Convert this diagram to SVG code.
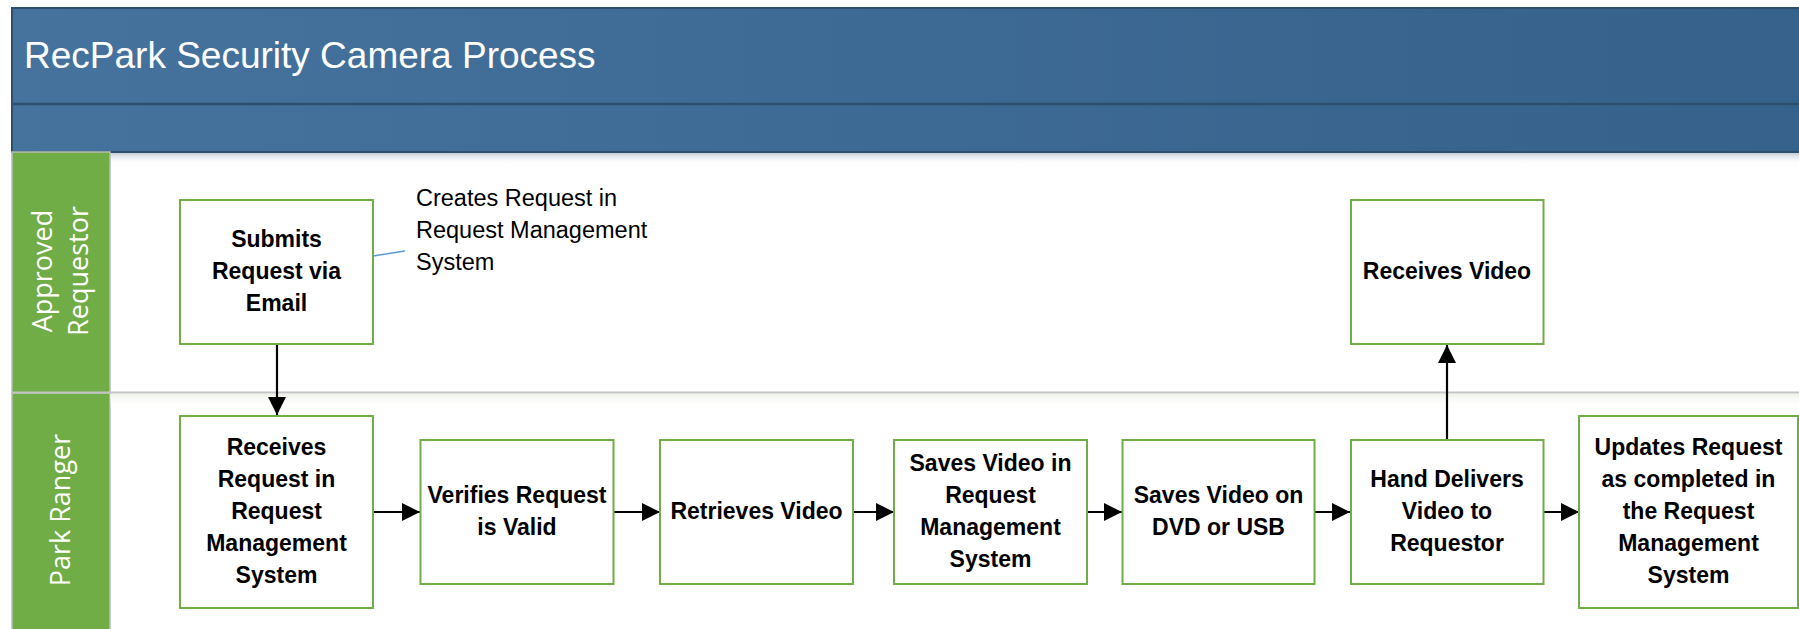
<svg xmlns="http://www.w3.org/2000/svg" width="1799" height="629" viewBox="0 0 1799 629">
<style>
.box{fill:#ffffff;stroke:#70AD47;stroke-width:2}
.bt{font-family:"Liberation Sans",Arial,sans-serif;font-weight:bold;font-size:23px;fill:#000;text-anchor:middle}
.lane{font-family:"Open Sans","DejaVu Sans",sans-serif;font-size:27px;fill:#ffffff;text-anchor:middle}
.conn{stroke:#000;stroke-width:2.2;fill:none;marker-end:url(#ah)}
.note{font-family:"Liberation Sans",Arial,sans-serif;font-size:23.5px;fill:#000}
</style>
<defs>
<linearGradient id="hdr" x1="0" y1="0" x2="1" y2="0">
<stop offset="0" stop-color="#45739e"/>
<stop offset="1" stop-color="#35618a"/>
</linearGradient>
<linearGradient id="shd" x1="0" y1="0" x2="0" y2="1">
<stop offset="0" stop-color="#c3ced8"/>
<stop offset="1" stop-color="#ffffff" stop-opacity="0"/>
</linearGradient>
<linearGradient id="shd2" x1="0" y1="0" x2="0" y2="1">
<stop offset="0" stop-color="#eef2ea"/>
<stop offset="1" stop-color="#ffffff" stop-opacity="0"/>
</linearGradient>
<marker id="ah" markerUnits="userSpaceOnUse" markerWidth="18" markerHeight="18" refX="18" refY="9" orient="auto">
<path d="M0,0 L18,9 L0,18 z" fill="#000"/>
</marker>
</defs>
<rect width="1799" height="629" fill="#ffffff"/>

<g id="pool">
<rect x="12" y="8" width="1800" height="144" fill="url(#hdr)" stroke="#2c4f6e" stroke-width="2"/>
<line x1="12" y1="104" x2="1799" y2="104" stroke="#2c4f6e" stroke-width="2.5"/>
<rect x="110" y="153" width="1689" height="12" fill="url(#shd)"/>
<text x="24" y="68" font-family="'Liberation Sans',Arial,sans-serif" font-size="37" fill="#ffffff">RecPark Security Camera Process</text>
</g>

<g id="lane-approved-requestor">
<rect x="12" y="152" width="98" height="241" fill="#70AD47" stroke="#b8beb4" stroke-width="1.5"/>
<text class="lane" transform="translate(51.5,271) rotate(-90)">Approved</text>
<text class="lane" transform="translate(87.5,271) rotate(-90)">Requestor</text>
</g>
<g id="lane-park-ranger">
<rect x="12" y="393" width="98" height="240" fill="#70AD47" stroke="#b8beb4" stroke-width="1.5"/>
<rect x="110" y="394" width="1689" height="14" fill="url(#shd2)"/>
<line x1="12" y1="392.5" x2="1799" y2="392.5" stroke="#c4c4c4" stroke-width="2"/>
<text class="lane" transform="translate(69.5,510) rotate(-90)">Park Ranger</text>
</g>

<g id="connectors">
<line class="conn" x1="277" y1="344" x2="277" y2="415"/>
<line class="conn" x1="373" y1="512" x2="420" y2="512"/>
<line class="conn" x1="613" y1="512" x2="660" y2="512"/>
<line class="conn" x1="853" y1="512" x2="894" y2="512"/>
<line class="conn" x1="1087" y1="512" x2="1122" y2="512"/>
<line class="conn" x1="1315" y1="512" x2="1350" y2="512"/>
<line class="conn" x1="1543" y1="512" x2="1579" y2="512"/>
<line class="conn" x1="1447" y1="440" x2="1447" y2="345"/>
<line x1="373" y1="256" x2="405" y2="251" stroke="#5B9BD5" stroke-width="1.5"/>
</g>

<g id="note">
<text class="note" x="416" y="206">Creates Request in</text>
<text class="note" x="416" y="238">Request Management</text>
<text class="note" x="416" y="270">System</text>
</g>

<g id="n-submits">
<rect class="box" x="180" y="200" width="193" height="144"/>
<text class="bt" x="276.5" y="247">Submits</text>
<text class="bt" x="276.5" y="279">Request via</text>
<text class="bt" x="276.5" y="311">Email</text>
</g>

<g id="n-receives-request">
<rect class="box" x="180" y="416" width="193" height="192"/>
<text class="bt" x="276.5" y="455">Receives</text>
<text class="bt" x="276.5" y="487">Request in</text>
<text class="bt" x="276.5" y="519">Request</text>
<text class="bt" x="276.5" y="551">Management</text>
<text class="bt" x="276.5" y="583">System</text>
</g>

<g id="n-verifies">
<rect class="box" x="420.5" y="440" width="193" height="144"/>
<text class="bt" x="517" y="503">Verifies Request</text>
<text class="bt" x="517" y="535">is Valid</text>
</g>

<g id="n-retrieves">
<rect class="box" x="660" y="440" width="193" height="144"/>
<text class="bt" x="756.5" y="519">Retrieves Video</text>
</g>

<g id="n-saves-rms">
<rect class="box" x="894" y="440" width="193" height="144"/>
<text class="bt" x="990.5" y="471">Saves Video in</text>
<text class="bt" x="990.5" y="503">Request</text>
<text class="bt" x="990.5" y="535">Management</text>
<text class="bt" x="990.5" y="567">System</text>
</g>

<g id="n-saves-dvd">
<rect class="box" x="1122.5" y="440" width="192" height="144"/>
<text class="bt" x="1218.5" y="503">Saves Video on</text>
<text class="bt" x="1218.5" y="535">DVD or USB</text>
</g>

<g id="n-hand-delivers">
<rect class="box" x="1351" y="440" width="192.5" height="144"/>
<text class="bt" x="1447" y="487">Hand Delivers</text>
<text class="bt" x="1447" y="519">Video to</text>
<text class="bt" x="1447" y="551">Requestor</text>
</g>

<g id="n-receives-video">
<rect class="box" x="1351" y="200" width="192.5" height="144"/>
<text class="bt" x="1447" y="279">Receives Video</text>
</g>

<g id="n-updates">
<rect class="box" x="1579" y="416" width="219" height="192"/>
<text class="bt" x="1688.5" y="455">Updates Request</text>
<text class="bt" x="1688.5" y="487">as completed in</text>
<text class="bt" x="1688.5" y="519">the Request</text>
<text class="bt" x="1688.5" y="551">Management</text>
<text class="bt" x="1688.5" y="583">System</text>
</g>
</svg>
